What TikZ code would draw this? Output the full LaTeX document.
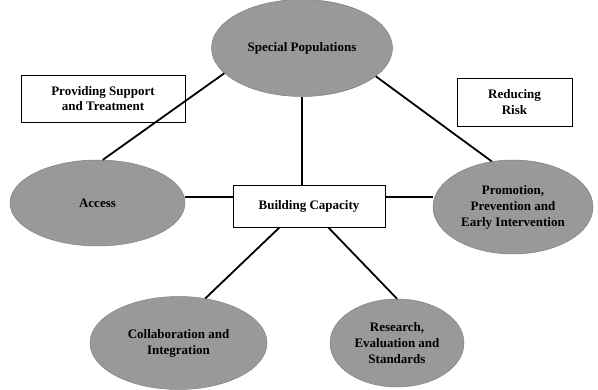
\documentclass[tikz,border=0pt]{standalone}
\usepackage{fontspec}
\setmainfont{Liberation Serif}
\usetikzlibrary{shapes.geometric,calc}
\tikzset{
  blob/.style={ellipse, fill=black!40, draw=black!50, line width=0.5pt, inner sep=0pt, align=center, font=\fontsize{13}{16}\selectfont\bfseries},
  labelbox/.style={rectangle, draw=black, line width=0.9pt, fill=white, inner sep=0pt, align=center, font=\fontsize{13}{15.5}\selectfont\bfseries},
  link/.style={line width=1.8pt, black}
}
\begin{document}
\begin{tikzpicture}[x=1pt,y=1pt]
\useasboundingbox (0,0) rectangle (598,389);
\node[blob, minimum width=181, minimum height=97] (sp) at (302,341) {Special Populations};
\node[blob, minimum width=175, minimum height=86] (access) at (97.5,186) {Access};
\node[blob, minimum width=160, minimum height=94] (promo) at (513,182) {Promotion,\\Prevention and\\Early Intervention};
\node[blob, minimum width=177, minimum height=93] (collab) at (178.5,46) {Collaboration and\\Integration};
\node[blob, minimum width=134, minimum height=88] (research) at (397,46) {Research,\\Evaluation and\\Standards};
\node[labelbox, minimum width=152, minimum height=42] (bc) at (309,183) {Building Capacity};
\node[labelbox, minimum width=164, minimum height=47] (pst) at (103,290.5) {Providing Support\\and Treatment};
\node[labelbox, minimum width=115, minimum height=48] (rr) at (514.5,287) {Reducing\\Risk};
\coordinate (bcw) at ($(bc.west)+(0,9)$);
\coordinate (bce) at ($(bc.east)+(0,9)$);
\draw[link] (sp.198) -- (access.83);
\draw[link] (sp.339) -- (promo.115);
\draw[link] (sp.south) -- (sp.south |- bc.north);
\draw[link] (bcw) -- (bcw -| access.east);
\draw[link] (bce) -- (bce -| promo.west);
\draw[link] (bc.216) -- (collab.59);
\draw[link] (bc.312) -- (research.north);
\end{tikzpicture}
\end{document}
